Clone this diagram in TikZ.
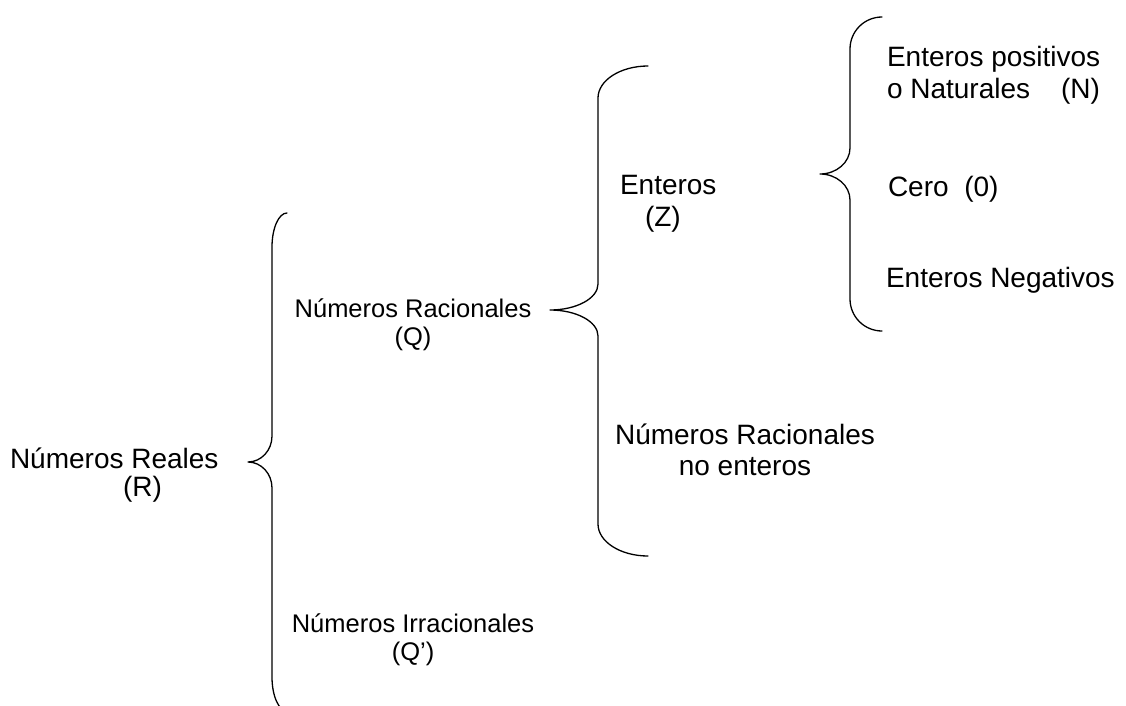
\documentclass[tikz,border=0pt]{standalone}
\usepackage{fontspec}
\setmainfont{Liberation Sans}
% brace: #1 end x, #2 stem x, #3 tip x, #4 top y, #5 tip y, #6 bottom y, #7 curl height, #8 tip height
\newcommand{\drawbrace}[8]{%
  \draw[bracestyle] (#1,#4)
    .. controls ({#1-0.552*(#1-#2)},#4) and (#2,{#4+0.448*#7}) .. (#2,{#4+#7})
    -- (#2,{#5-#8})
    .. controls (#2,{#5-0.448*#8}) and ({#3+0.552*(#2-#3)},#5) .. (#3,#5)
    .. controls ({#3+0.552*(#2-#3)},#5) and (#2,{#5+0.448*#8}) .. (#2,{#5+#8})
    -- (#2,{#6-#7})
    .. controls (#2,{#6-0.448*#7}) and ({#1-0.552*(#1-#2)},#6) .. (#1,#6);}
\begin{document}
\begin{tikzpicture}[x=1pt,y=-1pt,
  bracestyle/.style={line width=1.3pt, line cap=round, line join=round},
  lbl/.style={inner sep=0pt, outer sep=0pt, text=black},
  big/.style={font=\fontsize{28}{#1}\selectfont},
  small/.style={font=\fontsize{25.5}{#1}\selectfont}]
\useasboundingbox (0,0) rectangle (1126,706);

% braces
\drawbrace{287}{272}{248}{213}{462}{711}{34}{26}
\coordinate (tipR) at (248,462);
\drawbrace{648}{598}{550}{66}{310}{556}{32}{26}
\coordinate (tipQ) at (550,310);
\drawbrace{882}{850}{820}{17}{174}{331}{32}{26}
\coordinate (tipZ) at (820,174);

% labels (base anchor = baseline of the last line)
\node[lbl, big=28, align=left, anchor=base west] (reales) at (10,496)
  {Números Reales\\\hspace*{113pt}(R)};
\node[lbl, small=28, align=center, anchor=base] (racionales) at (413,345)
  {Números Racionales\\(Q)};
\node[lbl, small=28, align=center, anchor=base] (irracionales) at (413,660)
  {Números Irracionales\\(Q’)};
\node[lbl, big=32, align=left, anchor=base west] (enteros) at (620,226)
  {Enteros\\\hspace*{25pt}(Z)};
\node[lbl, big=31, align=center, anchor=base] (noenteros) at (745,475)
  {Números Racionales\\no enteros};
\node[lbl, big=32, align=left, anchor=base west] (naturales) at (887,99)
  {Enteros positivos\\o Naturales\hspace{31pt}(N)};
\node[lbl, big=32, anchor=base west] (cero) at (888,196) {Cero\hspace{15.6pt}(0)};
\node[lbl, big=32, anchor=base west] (negativos) at (886,287) {Enteros Negativos};
\end{tikzpicture}
\end{document}
